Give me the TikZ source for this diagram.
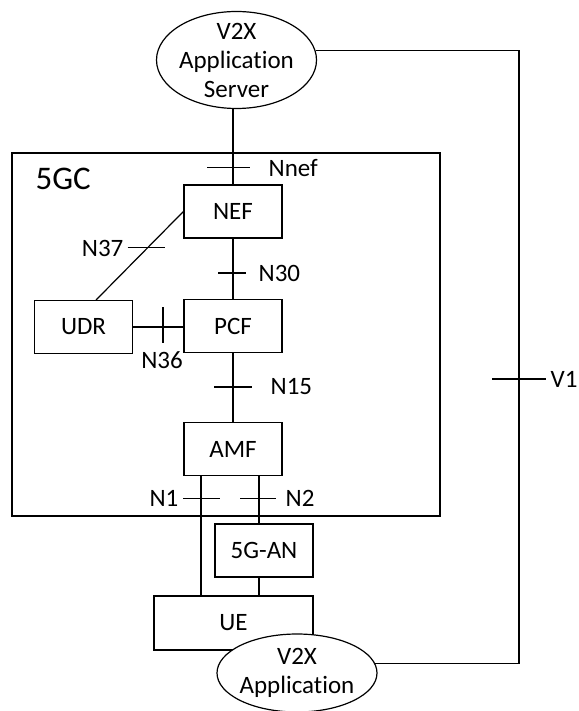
\documentclass[tikz,border=0pt]{standalone}
\usepackage{fontspec}
\setmainfont{Carlito}[Ligatures=NoCommon]
\usetikzlibrary{shapes.geometric,calc}

\begin{document}
\begin{tikzpicture}[x=1pt, y=-1pt, line width=1.2pt, font=\fontsize{25}{29}\selectfont,
    nf/.style={draw, rectangle, minimum width=98pt, minimum height=53pt, inner sep=0pt},
    app/.style={draw, ellipse, fill=white, minimum width=160pt, inner sep=0pt},
    lbl/.style={inner sep=0pt}]
    \def\htick#1#2#3{\draw ([xshift=-#2pt]#1) -- ([xshift=#3pt]#1);}
    \def\vtick#1#2#3{\draw ([yshift=#2pt]#1) -- ([yshift=-#3pt]#1);}

    \fill[white] (0,0) rectangle (578,711);
    \useasboundingbox (0,0) rectangle (578,711);

    % 5GC (core network)
    \node[draw, minimum width=428pt, minimum height=363pt, inner sep=0pt] (core) at (226,334.5) {};
    \node[lbl, anchor=west, font=\fontsize{33}{38}\selectfont] (coretxt) at (35,179) {5GC};

    \node[nf] (nef) at (233,211.5) {NEF};
    \node[nf] (pcf) at (233,326) {PCF};
    \node[nf] (udr) at (83.5,327) {UDR};
    \node[nf] (amf) at (233,449) {AMF};
    \node[nf] (an) at (264,550.5) {5G-AN};
    \node[nf, minimum width=159pt, minimum height=54pt] (ue) at (233.5,623) {UE};

    % V2X Application Server
    \node[app, minimum height=97pt] (as) at (236.5,60) {};
    \node[lbl, align=center] (astxt) at (as) {V2X\\Application\\Server};

    % V2X Application (on the UE)
    \node[app, minimum height=78pt] (ua) at (297,673) {};
    \node[lbl, align=center] (uatxt) at (ua) {V2X\\Application};

    % Nnef
    \draw (nef.north) -- (nef.north |- as.south);
    \coordinate (tnnef) at ($(nef.north)+(0,-17)$);
    \htick{tnnef}{26}{17}
    \node[lbl, anchor=west] (lnnef) at (268,168) {Nnef};

    % N30
    \draw (nef.south) -- (pcf.north);
    \coordinate (tn30) at ($(nef.south)!0.57!(pcf.north)$);
    \htick{tn30}{15}{13}
    \node[lbl, anchor=west] (ln30) at (258,273) {N30};

    % N37
    \draw (nef.west) -- (udr.65);
    \coordinate (tn37) at ($(nef.west)!0.41!(udr.65)$);
    \htick{tn37}{20}{17}
    \node[lbl, anchor=east] (ln37) at (124,248) {N37};

    % N36
    \draw (udr.east) -- (udr.east -| pcf.west);
    \coordinate (tn36) at (163,327);
    \vtick{tn36}{20}{16}
    \node[lbl] (ln36) at (162,360) {N36};

    % N15
    \draw (pcf.south) -- (amf.north);
    \coordinate (tn15) at (233,387);
    \htick{tn15}{19}{19}
    \node[lbl, anchor=west] (ln15) at (270,387) {N15};

    % N1 and N2
    \coordinate (n1) at ([xshift=-32pt]amf.south);
    \coordinate (n2) at ([xshift=26pt]amf.south);
    \draw (n1) -- (n1 |- ue.north);
    \draw (n2) -- (n2 |- an.north);
    \draw (n2 |- an.south) -- (n2 |- ue.north);
    \coordinate (tn1) at ($(n1)+(0,22)$);
    \coordinate (tn2) at ($(n2)+(0,22)$);
    \htick{tn1}{18}{19}
    \htick{tn2}{19}{17}
    \node[lbl, anchor=east] (ln1) at (179,498) {N1};
    \node[lbl, anchor=west] (ln2) at (285,498) {N2};

    % V1
    \coordinate (v1) at (519,379);
    \draw (as.7) -| (v1) |- (ua.7);
    \htick{v1}{27}{27}
    \node[lbl, anchor=west] (lv1) at (550,379) {V1};
\end{tikzpicture}
\end{document}
